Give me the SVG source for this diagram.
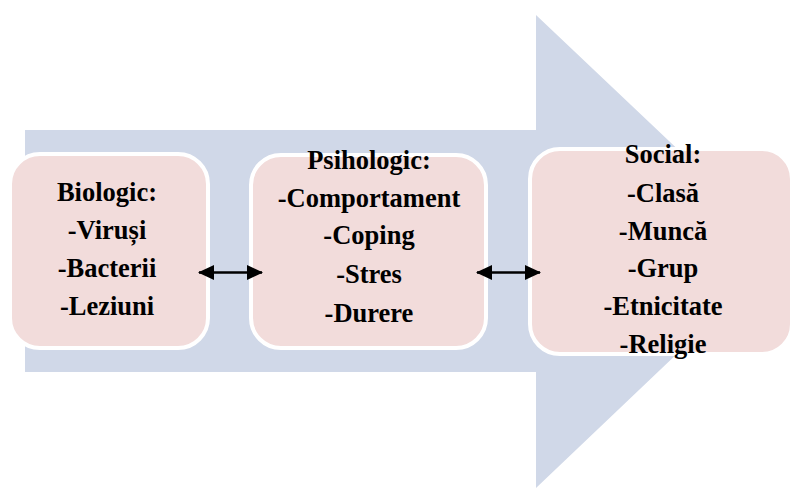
<svg xmlns="http://www.w3.org/2000/svg" width="791" height="489" viewBox="0 0 791 489">
<style>
.bg{fill:#D0D8E8}
.box{fill:#F2DCDB;stroke:#FFFFFF;stroke-width:4}
.t{font-family:"Liberation Serif","Times New Roman",serif;font-weight:bold;font-size:26.5px;fill:#000;text-anchor:middle}
.c{stroke:#000;stroke-width:2.5;fill:none}
</style>
<defs>
<marker id="ah" viewBox="0 0 16 15" refX="15" refY="7.5" markerWidth="16" markerHeight="15" markerUnits="userSpaceOnUse" orient="auto-start-reverse">
<path d="M0,0 L16,7.5 L0,15 Z" fill="#000"/>
</marker>
</defs>
<g id="bigarrow">
<polygon class="bg" points="25,130 536,130 536,15 785,251 536,488 536,372 25,372"/>
</g>
<g id="biologic">
<rect class="box" x="10" y="154" width="198" height="194" rx="30"/>
<text class="t" x="107" y="201">Biologic:</text>
<text class="t" x="107" y="239">-Viruși</text>
<text class="t" x="107" y="277">-Bacterii</text>
<text class="t" x="107" y="315">-Leziuni</text>
</g>
<g id="psihologic">
<rect class="box" x="251" y="155" width="235" height="193" rx="30"/>
<text class="t" x="369" y="169">Psihologic:</text>
<text class="t" x="369" y="207">-Comportament</text>
<text class="t" x="369" y="244">-Coping</text>
<text class="t" x="369" y="283">-Stres</text>
<text class="t" x="369" y="322">-Durere</text>
</g>
<g id="social">
<rect class="box" x="530" y="149" width="262" height="205" rx="30"/>
<text class="t" x="663" y="163">Social:</text>
<text class="t" x="663" y="202">-Clasă</text>
<text class="t" x="663" y="240">-Muncă</text>
<text class="t" x="663" y="277">-Grup</text>
<text class="t" x="663" y="315">-Etnicitate</text>
<text class="t" x="663" y="353">-Religie</text>
</g>
<g id="connectors">
<line class="c" x1="199" y1="272.5" x2="262" y2="272.5" marker-start="url(#ah)" marker-end="url(#ah)"/>
<line class="c" x1="477" y1="272.5" x2="540" y2="272.5" marker-start="url(#ah)" marker-end="url(#ah)"/>
</g>
</svg>
